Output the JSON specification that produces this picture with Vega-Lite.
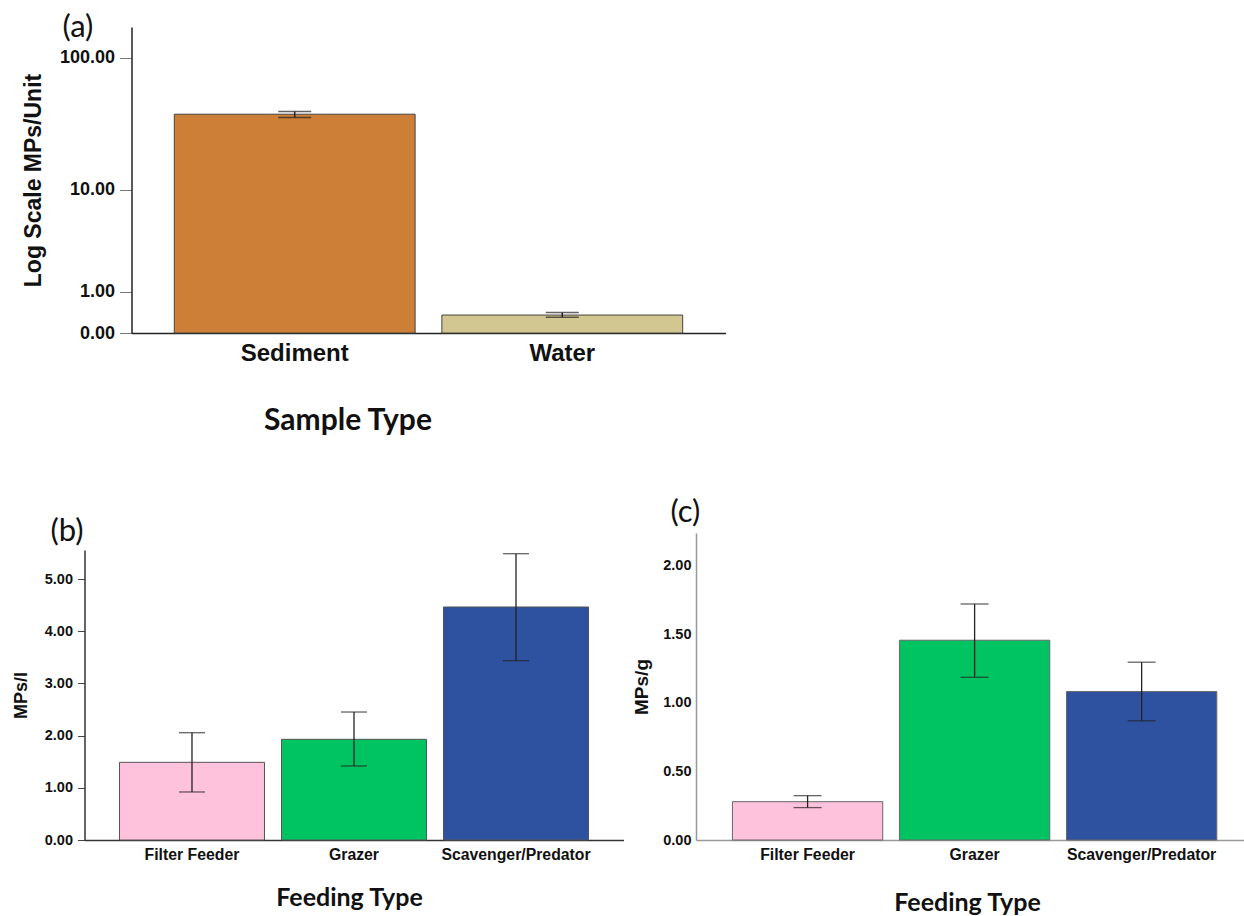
{
  "$schema": "https://vega.github.io/schema/vega-lite/v6.json",
  "autosize": {"type": "pad"},
  "padding": {"left": 12.5, "top": 11, "right": 0, "bottom": 0},
  "background": "white",
  "bounds": "flush",
  "spacing": 200,
  "resolve": {"scale": {"color": "independent"}},
  "config": {
    "view": {"stroke": null},
    "axis": {"grid": false, "labelFont": "Liberation Sans", "labelFontWeight": "bold", "labelColor": "#111", "titleColor": "#111", "domainColor": "#333", "tickColor": "#444"},
    "title": {"font": "Lato", "fontWeight": "normal", "fontSize": 31, "anchor": "start", "frame": "group", "baseline": "middle", "color": "#111"}
  },
  "vconcat": [
    {
      "title": {"text": "(a)", "dx": -22, "offset": -16.5},
      "width": 641,
      "height": 306,
      "data": {"values": [
        {"sample": "Sediment", "mean": 38.1, "lo": 36.0, "hi": 39.9},
        {"sample": "Water", "mean": 0.351, "lo": 0.30, "hi": 0.41}
      ]},
      "encoding": {
        "x": {"field": "sample", "type": "nominal", "sort": null,
          "scale": {"range": [47, 641], "paddingInner": 0.1, "paddingOuter": 0.16},
          "axis": {"title": "Sample Type", "labelAngle": 0, "ticks": false, "tickSize": 0, "labelPadding": 8, "labelFontSize": 24,
            "titleFont": "Lato", "titleFontSize": 30, "titleFontWeight": "bold", "titleX": 263, "titleY": 87, "titleBaseline": "middle", "titleAlign": "center",
            "domainColor": "#222", "domainWidth": 1.5}}
      },
      "layer": [
        {
          "mark": {"type": "bar", "stroke": "#444", "strokeWidth": 1},
          "encoding": {
            "y": {"field": "mean", "type": "quantitative",
              "scale": {"type": "symlog", "constant": 1, "domain": [0, 167.5], "nice": false},
              "axis": {"title": "Log Scale MPs/Unit", "values": [0, 1, 10, 100], "format": ".2f", "offset": -47, "tickSize": 12, "labelPadding": 5, "labelFontSize": 18,
                "titleFont": "Liberation Sans", "titleFontSize": 23, "titleFontWeight": "bold", "titleX": -98, "titleY": 153, "titleAngle": -90, "titleBaseline": "middle", "titleAlign": "center",
                "domainColor": "#222", "domainWidth": 1.5, "tickColor": "#777"}},
            "color": {"field": "sample", "type": "nominal", "scale": {"domain": ["Sediment", "Water"], "range": ["#CD7F37", "#D3C791"]}, "legend": null}
          }
        },
        {
          "mark": {"type": "errorbar", "ticks": true, "size": 33, "thickness": 1.5, "color": "#222"},
          "encoding": {
            "y": {"field": "lo", "type": "quantitative", "title": "Log Scale MPs/Unit"},
            "y2": {"field": "hi"}
          }
        }
      ]
    },
    {
      "hconcat": [
        {
          "title": {"text": "(b)", "dx": -34, "offset": -15},
          "width": 539,
          "height": 307,
          "data": {"values": [
            {"type": "Filter Feeder", "mean": 1.488, "lo": 0.92, "hi": 2.056},
            {"type": "Grazer", "mean": 1.929, "lo": 1.418, "hi": 2.452},
            {"type": "Scavenger/Predator", "mean": 4.464, "lo": 3.436, "hi": 5.485}
          ]},
          "encoding": {
            "x": {"field": "type", "type": "nominal", "sort": null,
              "scale": {"paddingInner": 0.105, "paddingOuter": 0.216},
              "axis": {"title": "Feeding Type", "labelAngle": 0, "ticks": false, "tickSize": 0, "labelPadding": 7, "labelFontSize": 15.8,
                "titleFont": "Lato", "titleFontSize": 25, "titleFontWeight": "bold", "titleX": 264.5, "titleY": 57, "titleBaseline": "middle", "titleAlign": "center",
                "domainColor": "#333", "domainWidth": 1.5}}
          },
          "layer": [
            {
              "mark": {"type": "bar", "stroke": "#555", "strokeWidth": 1},
              "encoding": {
                "y": {"field": "mean", "type": "quantitative",
                  "scale": {"domain": [0, 5.556], "range": [307, 17], "nice": false, "zero": true},
                  "axis": {"title": "MPs/l", "values": [0, 1, 2, 3, 4, 5], "format": ".2f", "tickSize": 7, "labelPadding": 5, "labelFontSize": 14.5,
                    "titleFont": "Liberation Sans", "titleFontSize": 18, "titleFontWeight": "bold", "titleX": -63, "titleY": 162, "titleAngle": -90, "titleBaseline": "middle", "titleAlign": "center",
                    "domainColor": "#333", "domainWidth": 1.5}},
                "color": {"field": "type", "type": "nominal", "scale": {"domain": ["Filter Feeder", "Grazer", "Scavenger/Predator"], "range": ["#FFC2DC", "#00C462", "#2E52A0"]}, "legend": null}
              }
            },
            {
              "mark": {"type": "errorbar", "ticks": true, "size": 26, "thickness": 1.3, "color": "#222"},
              "encoding": {
                "y": {"field": "lo", "type": "quantitative", "title": "MPs/l"},
                "y2": {"field": "hi"}
              }
            }
          ]
        },
        {
          "title": {"text": "(c)", "dx": -25.5, "offset": 4},
          "width": 548.5,
          "height": 307,
          "data": {"values": [
            {"type": "Filter Feeder", "mean": 0.279, "lo": 0.236, "hi": 0.323},
            {"type": "Grazer", "mean": 1.455, "lo": 1.185, "hi": 1.719},
            {"type": "Scavenger/Predator", "mean": 1.081, "lo": 0.868, "hi": 1.295}
          ]},
          "encoding": {
            "x": {"field": "type", "type": "nominal", "sort": null,
              "scale": {"paddingInner": 0.1, "paddingOuter": 0.192, "align": 0.568},
              "axis": {"title": "Feeding Type", "labelAngle": 0, "ticks": false, "tickSize": 0, "labelPadding": 7, "labelFontSize": 15.8,
                "titleFont": "Lato", "titleFontSize": 25, "titleFontWeight": "bold", "titleX": 271, "titleY": 62, "titleBaseline": "middle", "titleAlign": "center",
                "domainColor": "#999", "domainWidth": 1.5}}
          },
          "layer": [
            {
              "mark": {"type": "bar", "stroke": "#666", "strokeWidth": 1},
              "encoding": {
                "y": {"field": "mean", "type": "quantitative",
                  "scale": {"domain": [0, 2.236], "nice": false, "zero": true},
                  "axis": {"title": "MPs/g", "values": [0, 0.5, 1, 1.5, 2], "format": ".2f", "ticks": false, "tickSize": 0, "labelPadding": 5, "labelFontSize": 14.5,
                    "titleFont": "Liberation Sans", "titleFontSize": 19, "titleFontWeight": "bold", "titleX": -54.5, "titleY": 153.5, "titleAngle": -90, "titleBaseline": "middle", "titleAlign": "center",
                    "domainColor": "#999", "domainWidth": 1.5}},
                "color": {"field": "type", "type": "nominal", "scale": {"domain": ["Filter Feeder", "Grazer", "Scavenger/Predator"], "range": ["#FFC2DC", "#00C462", "#2E52A0"]}, "legend": null}
              }
            },
            {
              "mark": {"type": "errorbar", "ticks": true, "size": 28, "thickness": 1.3, "color": "#222"},
              "encoding": {
                "y": {"field": "lo", "type": "quantitative", "title": "MPs/g"},
                "y2": {"field": "hi"}
              }
            }
          ]
        }
      ],
      "spacing": 72.5,
      "bounds": "flush"
    }
  ]
}
